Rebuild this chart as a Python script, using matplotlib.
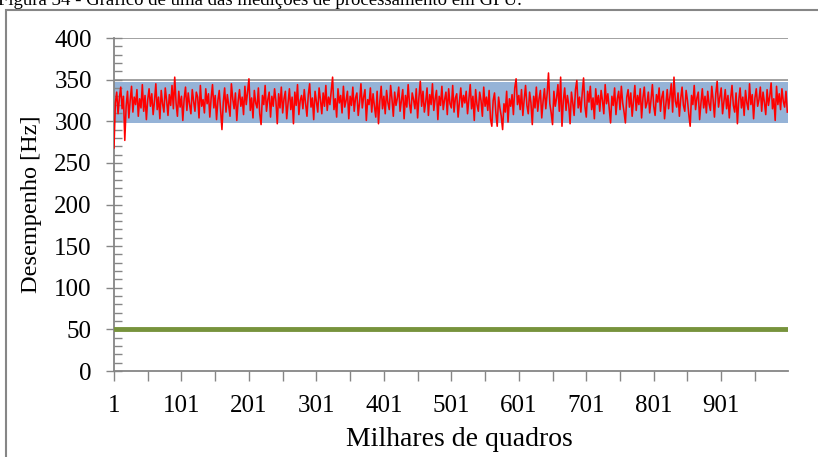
import numpy as np
import matplotlib
matplotlib.use('Agg')
import matplotlib.pyplot as plt
from matplotlib.patches import Rectangle
from matplotlib.ticker import MultipleLocator, FixedLocator

plt.rcParams['font.family'] = ['Liberation Serif', 'DejaVu Serif']

# desempenho medido (Hz), uma amostra a cada 2 mil quadros
desempenho = [
    268, 322, 335, 309, 328, 341, 315, 330, 277, 318, 336, 304, 325, 342, 311, 329, 320, 338, 306, 327,
    316, 344, 312, 331, 302, 326, 339, 318, 333, 308, 324, 345, 314, 329, 303, 337, 321, 311, 340, 325,
    307, 332, 319, 343, 315, 353, 322, 306, 336, 317, 330, 301, 327, 341, 313, 334, 320, 309, 338, 324,
    312, 335, 329, 304, 343, 318, 326, 310, 339, 321, 333, 305, 328, 344, 316, 331, 302, 325, 337, 314,
    290, 323, 340, 311, 332, 319, 306, 345, 327, 315, 334, 301, 324, 338, 318, 329, 308, 342, 320, 335,
    351, 313, 328, 304, 337, 322, 316, 340, 309, 296, 331, 320, 343, 312, 326, 335, 305, 330, 318, 339,
    324, 297, 333, 316, 341, 310, 327, 336, 303, 322, 339, 314, 329, 297, 335, 319, 344, 308, 325, 331,
    315, 338, 321, 306, 332, 345, 317, 328, 302, 336, 323, 311, 340, 326, 309, 334, 318, 343, 313, 329,
    320, 337, 353, 314, 327, 305, 339, 322, 331, 310, 342, 317, 325, 336, 303, 330, 319, 341, 312, 328,
    334, 307, 323, 345, 316, 329, 338, 301, 326, 320, 340, 311, 333, 318, 305, 336, 297, 324, 342, 315,
    330, 309, 337, 322, 314, 343, 327, 306, 335, 319, 328, 341, 312, 325, 338, 303, 331, 317, 344, 321,
    310, 334, 326, 315, 339, 304, 329, 348, 318, 336, 311, 323, 340, 307, 332, 320, 345, 313, 327, 337,
    302, 330, 319, 342, 314, 326, 335, 308, 339, 321, 316, 343, 311, 328, 333, 305, 324, 340, 317, 331,
    322, 336, 309, 327, 344, 315, 330, 301, 338, 320, 312, 335, 325, 306, 341, 318, 329, 313, 337, 303,
    294, 325, 334, 310, 294, 329, 316, 306, 290, 321, 311, 336, 299, 327, 318, 332, 308, 340, 351, 320,
    331, 314, 338, 307, 326, 343, 319, 309, 335, 322, 296, 330, 316, 341, 312, 327, 337, 304, 324, 339,
    315, 333, 358, 321, 310, 296, 336, 318, 328, 344, 312, 353, 294, 325, 340, 313, 331, 320, 297, 335,
    322, 307, 338, 349, 316, 329, 311, 334, 352, 318, 305, 336, 323, 342, 314, 328, 303, 339, 320, 331,
    312, 337, 325, 309, 344, 321, 333, 315, 298, 330, 319, 340, 308, 327, 336, 314, 342, 322, 311, 298,
    329, 338, 317, 334, 306, 325, 343, 313, 331, 320, 339, 304, 328, 341, 316, 322, 335, 310, 326, 344,
    318, 307, 332, 323, 340, 312, 329, 336, 303, 321, 338, 315, 330, 345, 311, 353, 324, 317, 334, 306,
    327, 341, 319, 312, 337, 325, 308, 294, 331, 320, 343, 314, 328, 335, 302, 322, 339, 316, 330, 310,
    336, 321, 313, 342, 326, 305, 333, 348, 317, 329, 340, 309, 324, 338, 315, 331, 304, 327, 343, 319,
    311, 334, 297, 325, 340, 316, 329, 307, 337, 322, 314, 345, 320, 332, 303, 328, 339, 318, 326, 341,
    312, 335, 323, 308, 338, 319, 330, 346, 315, 327, 301, 342, 320, 333, 314, 339, 324, 317, 336, 311,
]
quadros = np.arange(1, 2 * len(desempenho), 2)

# faixa alvo e limite minimo
faixa_min = 298
faixa_max = 347
limite = 50
ultimo_quadro = 1000

xticks_lbl = [1, 101, 201, 301, 401, 501, 601, 701, 801, 901]

fig = plt.figure(figsize=(8.18, 4.57), dpi=100)
ax = fig.add_axes([114 / 818, 86 / 457, 674 / 818, 333 / 457])

xs = [1, ultimo_quadro]
for v in [350, 400]:
    ax.axhline(v, color='#9a9a9a', lw=1.3, zorder=0.5)
ax.fill_between(xs, faixa_min, faixa_max, color='#95B3D7', lw=0, zorder=1)
ax.plot(quadros, desempenho, color='#FF0000', lw=1.15, zorder=3)
ax.plot(xs, [limite, limite], color='#77933C', lw=3.5, solid_capstyle='round', zorder=3)

ax.set_xlim(1, ultimo_quadro)
ax.set_ylim(0, 400)
ax.set_yticks(range(0, 401, 50))
ax.yaxis.set_minor_locator(MultipleLocator(10))
ax.xaxis.set_major_locator(FixedLocator(range(1, 1000, 50)))
ax.set_xticklabels([str(v) if v in xticks_lbl else '' for v in range(1, 1000, 50)])

for s in ['top', 'right']:
    ax.spines[s].set_visible(False)
for s in ['left', 'bottom']:
    ax.spines[s].set_color('#868686')
    ax.spines[s].set_linewidth(1.3)

ax.tick_params(axis='y', which='major', direction='inout', length=12, width=1, color='#868686',
               labelsize=18, pad=10)
ax.tick_params(axis='y', which='minor', direction='in', length=6, width=1, color='#868686')
ax.tick_params(axis='x', which='major', direction='out', length=7, width=1, color='#868686',
               labelsize=18, pad=10)

ax.set_ylabel('Desempenho [Hz]', fontsize=17.5)
ax.yaxis.set_label_coords(-0.122, 0.5)
ax.set_xlabel('Milhares de quadros', fontsize=20)
ax.xaxis.set_label_coords(0.513, -0.207)
ax.xaxis.label.set_va('center')
ax.yaxis.label.set_va('center')

# moldura do grafico e legenda da figura (cortada no topo)
fig.patches.append(Rectangle((6 / 818, -0.1), 1.2, 1.1 - 10 / 457, transform=fig.transFigure,
                             fill=False, edgecolor='#868686', lw=1.5))
fig.text(-0.002, 1 - 5 / 457, 'Figura 34 - Gráfico de uma das medições de processamento em GPU.',
         fontsize=13.5, va='baseline', ha='left')

fig.savefig('out.png', dpi=100)
